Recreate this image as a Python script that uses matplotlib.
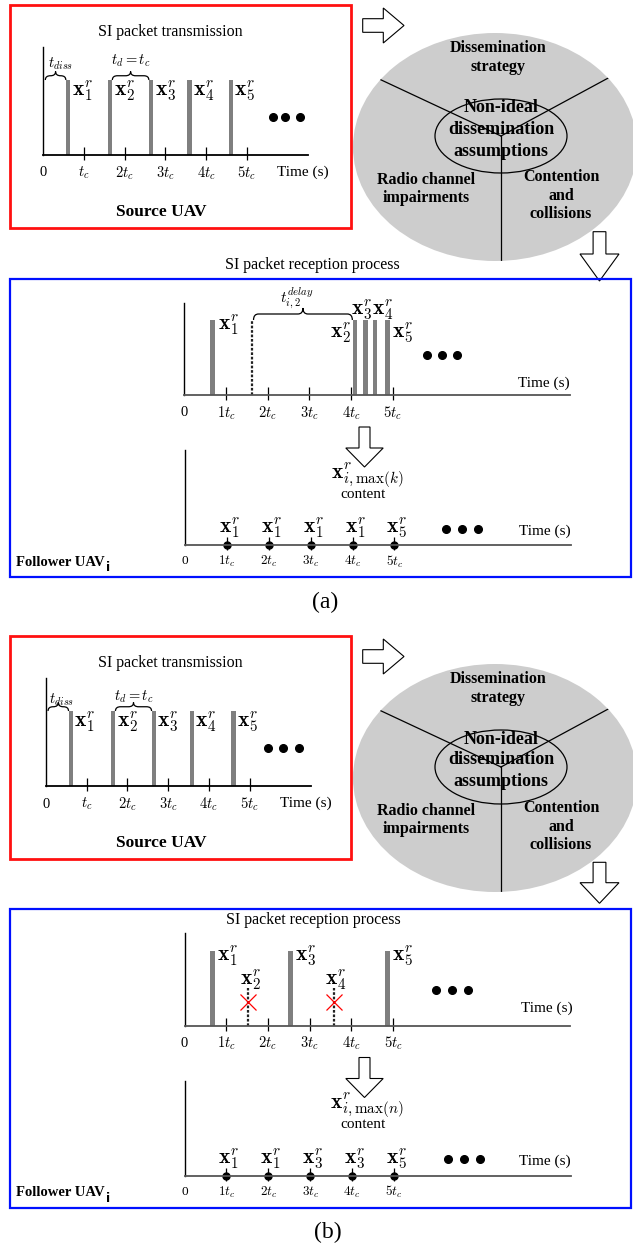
import matplotlib.pyplot as plt
from matplotlib.patches import Rectangle, Ellipse, Polygon, PathPatch
from matplotlib.path import Path

# Packet timing, everything in units of t_c
tick_pos = [1, 2, 3, 4, 5]
src_tick_labels = ["$t_c$", "$2t_c$", "$3t_c$", "$4t_c$", "$5t_c$"]
rx_tick_labels = ["$1t_c$", "$2t_c$", "$3t_c$", "$4t_c$", "$5t_c$"]
packet_ids = [1, 2, 3, 4, 5]

tx_times_a = [0.61, 1.64, 2.65, 3.59, 4.61]
tx_times_b = [0.61, 1.65, 2.65, 3.59, 4.61]

rx_times_a = [0.67, 4.09, 4.34, 4.57, 4.87]
delay_start_a = 1.63
rx_times_b = [0.67, 1.53, 2.54, 3.59, 4.87]
rx_lost_b = [False, True, False, True, False]

held_a = [1, 1, 1, 1, 5]
held_b = [1, 1, 3, 3, 5]

# "..." continuation marks (x in t_c, y in bar heights)
more_tx_a = [5.64, 5.94, 6.31]
more_tx_b = [5.45, 5.83, 6.21]
more_rx_a = [5.81, 6.19, 6.54]
more_rx_b = [6.04, 6.42, 6.79]
more_fol_a = [6.23, 6.61, 6.99]
more_fol_b = [6.30, 6.67, 7.06]

FULL, LOST = 1.0, 0.5

plt.rcParams.update({
    "font.family": "serif",
    "font.serif": ["Liberation Serif", "DejaVu Serif"],
    "mathtext.fontset": "cm",
})

W, H = 633, 1248
UNIT_PX = 75          # pixel height of a full packet bar
BAR_W_PX = 4.6
BAR_GRAY = "#7f7f7f"
ELL_GRAY = "#cdcdcd"
XSIZE = 15.5          # size of the x^r packet labels

fig = plt.figure(figsize=(W / 100, H / 100), dpi=100)
ov = fig.add_axes([0, 0, 1, 1])
ov.set_xlim(0, W)
ov.set_ylim(H, 0)
ov.axis("off")


def label(x, y, s, size, weight="normal", ha="center", va="center", **kw):
    return ov.text(x, y, s, fontsize=size, fontweight=weight, ha=ha, va=va, **kw)


def right_arrow(x0, xb, xt, yc, sh=6.8, hh=17.5):
    pts = [(x0, yc - sh), (xb, yc - sh), (xb, yc - hh), (xt, yc),
           (xb, yc + hh), (xb, yc + sh), (x0, yc + sh)]
    ov.add_patch(Polygon(pts, closed=True, fc="white", ec="black", lw=0.8))


def down_arrow(xc, y0, yb, yt, sh, hh):
    pts = [(xc - sh, y0), (xc + sh, y0), (xc + sh, yb), (xc + hh, yb),
           (xc, yt), (xc - hh, yb), (xc - sh, yb)]
    ov.add_patch(Polygon(pts, closed=True, fc="white", ec="black", lw=0.8))


def timeline(x0, ytop, x1, ybase, tc_px, axis_color="black"):
    ax = fig.add_axes([x0 / W, 1 - ybase / H, (x1 - x0) / W, (ybase - ytop) / H])
    ax.set_xlim(0, (x1 - x0) / tc_px)
    ax.set_ylim(0, (ybase - ytop) / UNIT_PX)
    ax.patch.set_visible(False)
    ax.spines[["top", "right"]].set_visible(False)
    ax.spines["left"].set_linewidth(1.0)
    ax.spines["bottom"].set_color(axis_color)
    ax.spines["bottom"].set_linewidth(1.3)
    ax.set_xticks([])
    ax.set_yticks([])
    ax.tc_px = tc_px
    return ax


def ticks(ax, labels, dy=18, size=10.5):
    ax.vlines(tick_pos, -5 / UNIT_PX, 8 / UNIT_PX, color="black", lw=0.9, clip_on=False)
    for t, s in zip([0] + tick_pos, ["0"] + labels):
        ax.annotate(s, (t, 0), xytext=(0, -dy), textcoords="offset pixels",
                    ha="center", va="center", fontsize=size)


def packet_label(ax, k, x, y, dx, dy, size=XSIZE):
    ax.annotate(rf"$\mathbf{{x}}_{k}^r$", (x, y), xytext=(dx, -dy),
                textcoords="offset pixels", ha="center", va="center", fontsize=size)


def brace(ax, xa, xb, y, h_px=9, lw=0.9):
    h = h_px / UNIT_PX
    q = min(5 / ax.tc_px, (xb - xa) / 4)
    xm = (xa + xb) / 2
    ym = y + h / 2
    verts = [(xa, y), (xa, ym), (xa + q, ym),
             (xm - q, ym), (xm, ym), (xm, y + h),
             (xm, ym), (xm + q, ym),
             (xb - q, ym), (xb, ym), (xb, y)]
    codes = [Path.MOVETO, Path.CURVE3, Path.CURVE3,
             Path.LINETO, Path.CURVE3, Path.CURVE3,
             Path.CURVE3, Path.CURVE3,
             Path.LINETO, Path.CURVE3, Path.CURVE3]
    ax.add_patch(PathPatch(Path(verts, codes), fill=False, lw=lw, clip_on=False))
    return xm, y + h


def more_dots(ax, xs, y):
    ax.plot(xs, [y] * len(xs), "o", color="black", ms=5.5, clip_on=False)


def source_block(dy, ax_x0, tx_times, more_x, tdiss_xy, td_xy):
    ov.add_patch(Rectangle((10, 5 + dy), 341, 223, fill=False, ec="#ff1010", lw=2.0))
    label(170, 32 + dy, "SI packet transmission", 11.5)
    label(161, 212 + dy, "Source UAV", 12.5, "bold")

    ax = timeline(ax_x0, 46.7 + dy, ax_x0 + 265, 155 + dy, 40.7)
    ticks(ax, src_tick_labels)
    bw = BAR_W_PX / ax.tc_px
    ax.bar(tx_times, [FULL] * len(tx_times), width=bw, color=BAR_GRAY, ec="none")
    for k, t in zip(packet_ids, tx_times):
        packet_label(ax, k, t, FULL, 14, 11)
    more_dots(ax, more_x, 0.51)
    ax.annotate("Time (s)", (ax.get_xlim()[1], 0), xytext=(-31, -17),
                textcoords="offset pixels", ha="left", va="center", fontsize=11)

    brace(ax, 0.05, tx_times[0] - bw / 2, FULL, 8.5)
    brace(ax, tx_times[1] + bw / 2, tx_times[2] - bw / 2, FULL, 8.5)
    label(tdiss_xy[0], tdiss_xy[1] + dy, "$t_{diss}$", 10.5)
    label(td_xy[0], td_xy[1] + dy, "$t_d = t_c$", 10.5)


def assumptions(dy):
    big = Ellipse((495, 147 + dy), 284, 228, fc=ELL_GRAY, ec="none")
    ov.add_patch(big)
    for (xa, ya), (xb, yb) in [((501, 136), (330, 56)), ((501, 136), (660, 50)),
                               ((501, 136), (501, 300))]:
        ln, = ov.plot([xa, xb], [ya + dy, yb + dy], color="black", lw=0.9)
        ln.set_clip_path(big)
    ov.add_patch(Ellipse((501, 136 + dy), 132, 74, fc=ELL_GRAY, ec="black", lw=0.9))

    label(498, 48 + dy, "Dissemination", 11.5, "bold")
    label(498, 67 + dy, "strategy", 11.5, "bold")
    label(501, 108 + dy, "Non-ideal", 13, "bold")
    label(501, 129 + dy, "dissemination", 13, "bold")
    label(501, 151 + dy, "assumptions", 13, "bold")
    label(426, 180 + dy, "Radio channel", 11.5, "bold")
    label(426, 198 + dy, "impairments", 11.5, "bold")
    label(561, 177 + dy, "Contention", 11.5, "bold")
    label(561, 196 + dy, "and", 11.5, "bold")
    label(561, 214 + dy, "collisions", 11.5, "bold")

    right_arrow(362.7, 383.3, 404, 25.5 + dy)


def follower(dy, x0, held, more_x, content_sub):
    ax = timeline(x0, 450 + dy, 571 + (x0 - 185), 545 + dy, 41.9, axis_color="#555555")
    ticks(ax, rx_tick_labels, dy=16.5, size=9.5)
    ax.plot(tick_pos, [0] * len(tick_pos), "o", color="black", ms=5, clip_on=False)
    for k, t in zip(held, tick_pos):
        packet_label(ax, k, t, 0, 2.5, -17)
    more_dots(ax, more_x, 0.22)
    ax.annotate("Time (s)", (ax.get_xlim()[1], 0), xytext=(0, 14),
                textcoords="offset pixels", ha="right", va="center", fontsize=11)

    down_arrow(364.5, 427 + dy, 448 + dy, 467 + dy, 5.5, 18.7)
    label(366.7, 475 + dy, r"$\mathbf{x}^r_{i,\max(%s)}$" % content_sub, XSIZE)
    label(362.7, 494 + dy, "content", 11)

    fl = label(16, 562 + dy, "Follower UAV", 10.5, "bold", ha="left")
    ov.annotate("i", xy=(1, 0), xycoords=fl, xytext=(1, 1), textcoords="offset pixels",
                ha="left", va="center", fontsize=9, fontweight="bold",
                fontfamily="DejaVu Sans")


# ---------------- (a) ideal-order reception with delay ----------------
source_block(0, 43.3, tx_times_a, more_tx_a, (61, 64), (131, 61))
assumptions(0)
down_arrow(599.5, 231.7, 254, 281, 6.4, 19.5)

label(312, 265, "SI packet reception process", 11.5)

rx = timeline(184.3, 302.7, 570, 395, 41.7, axis_color="#555555")
ticks(rx, rx_tick_labels)
rx.bar(rx_times_a, [FULL] * 5, width=BAR_W_PX / rx.tc_px, color=BAR_GRAY, ec="none")
rx.vlines(delay_start_a, 0, FULL, color="#222222", lw=1.6, linestyles=(0, (1.2, 0.8)))
for k, t, (dx, dyl) in zip(packet_ids, rx_times_a,
                           [(16, 5), (-14, 13), (-3.6, -10), (8, -10), (15, 13)]):
    packet_label(rx, k, t, FULL, dx, dyl)
more_dots(rx, more_rx_a, 0.53)
rx.annotate("Time (s)", (rx.get_xlim()[1], 0), xytext=(0, 12),
            textcoords="offset pixels", ha="right", va="center", fontsize=11)
bx, by = brace(rx, delay_start_a + 0.03, rx_times_a[1] - 0.06, FULL, 12)
rx.annotate(r"$t_{i,2}^{delay}$", (bx, by), xytext=(-6, 10), textcoords="offset pixels",
            ha="center", va="center", fontsize=11)

follower(0, 185, held_a, more_fol_a, "k")
ov.add_patch(Rectangle((10, 279), 621, 298, fill=False, ec="#0010ff", lw=1.6))
label(325, 602, "(a)", 17)

# ---------------- (b) lossy reception ----------------
D = 631
source_block(D, 46, tx_times_b, more_tx_b, (61.7, 699.5 - D), (134, 696.5 - D))
assumptions(D)
down_arrow(599.5, 862.3, 882.7, 903.3, 6.4, 19.5)

ov.add_patch(Rectangle((10, 909), 621, 299, fill=False, ec="#0010ff", lw=1.6))
label(313, 920, "SI packet reception process", 11.5)

rx = timeline(184.5, 933.3, 570, 1025.7, 41.7, axis_color="#555555")
ticks(rx, rx_tick_labels)
got = [t for t, lost in zip(rx_times_b, rx_lost_b) if not lost]
gone = [t for t, lost in zip(rx_times_b, rx_lost_b) if lost]
rx.bar(got, [FULL] * len(got), width=BAR_W_PX / rx.tc_px, color=BAR_GRAY, ec="none")
rx.vlines(gone, 0, LOST, color="#222222", lw=1.6, linestyles=(0, (1.2, 0.8)))
rx.plot(gone, [0.32] * len(gone), "x", color="red", ms=12, mew=0.9)
for k, t, lost in zip(packet_ids, rx_times_b, rx_lost_b):
    if lost:
        packet_label(rx, k, t, LOST, 2, -9)
    else:
        packet_label(rx, k, t, FULL, 15, 5)
more_dots(rx, more_rx_b, 0.48)
rx.annotate("Time (s)", (rx.get_xlim()[1], 0), xytext=(3, 17),
            textcoords="offset pixels", ha="right", va="center", fontsize=11)

follower(630.5, 184.5, held_b, more_fol_b, "n")
label(328, 1232, "(b)", 17)

fig.savefig("out.png", dpi=100)
